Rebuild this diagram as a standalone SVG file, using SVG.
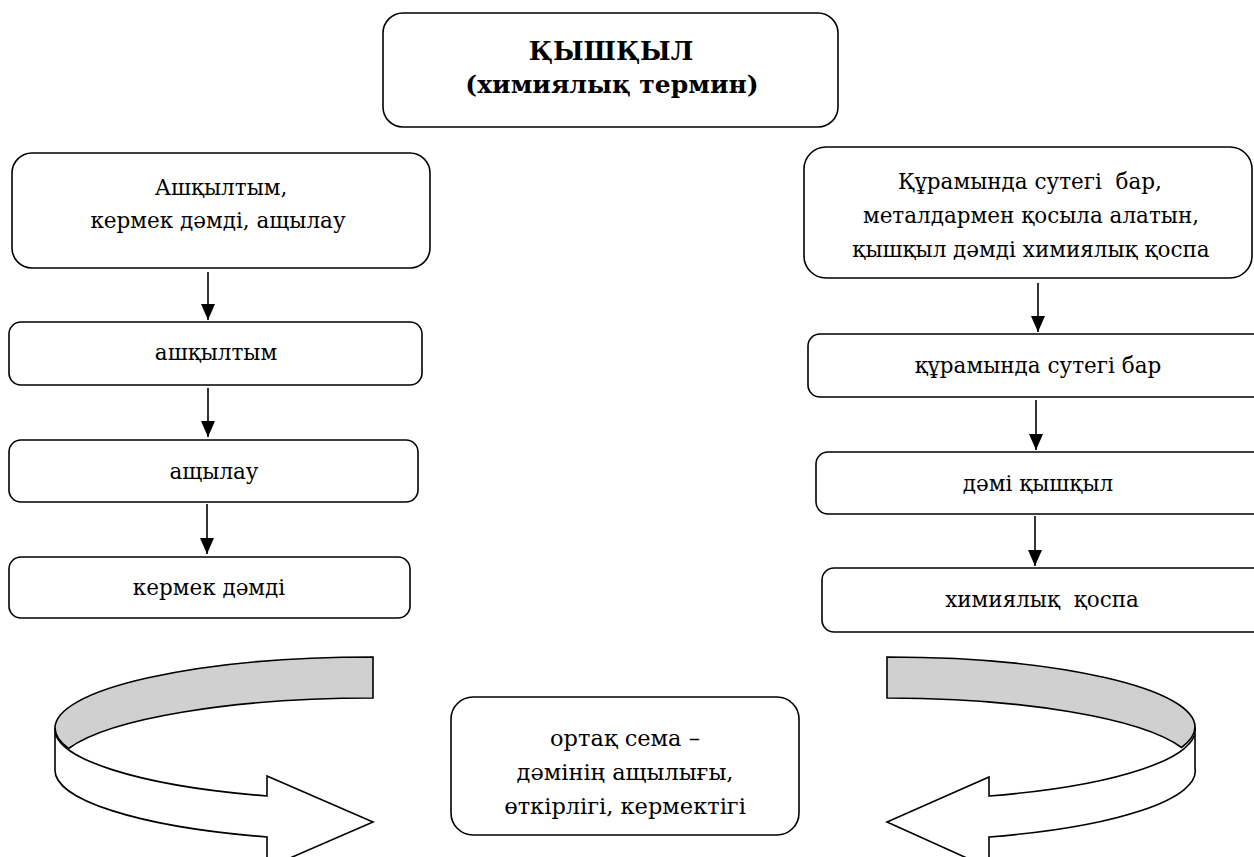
<svg xmlns="http://www.w3.org/2000/svg" width="1254" height="857" viewBox="0 0 1254 857">
<defs>
<style>
.box{fill:#fff;stroke:#000;stroke-width:1.6}
.con{stroke:#000;stroke-width:1.6;fill:none}
.rib{stroke:#000;stroke-width:1.6;stroke-linejoin:miter}
</style>
<marker id="ah" viewBox="0 0 16 14" refX="16" refY="7" markerWidth="16" markerHeight="14" markerUnits="userSpaceOnUse" orient="auto">
<path d="M0,0 L16,7 L0,14 Z" fill="#000"/>
</marker>
</defs>
<rect width="1254" height="857" fill="#fff"/>

<g font-family="DejaVu Serif, Liberation Serif, serif" font-size="21.5" fill="#000" text-anchor="middle">
<g id="title">
<rect class="box" x="383" y="13" width="455" height="114" rx="20"/>
<text x="611" y="60" font-size="25.5" font-weight="bold">ҚЫШҚЫЛ</text>
<text x="612" y="93" font-size="25" font-weight="bold">(химиялық термин)</text>
</g>

<g id="left-main">
<rect class="box" x="12" y="153" width="418" height="115" rx="20"/>
<text x="221" y="195">Ашқылтым,</text>
<text x="218" y="228">кермек дәмді, ащылау</text>
</g>
<g id="left-1">
<rect class="box" x="9" y="322" width="413" height="63" rx="12"/>
<text x="216" y="360">ашқылтым</text>
</g>
<g id="left-2">
<rect class="box" x="9" y="440" width="409" height="62" rx="12"/>
<text x="214" y="479">ащылау</text>
</g>
<g id="left-3">
<rect class="box" x="9" y="557" width="401" height="61" rx="12"/>
<text x="209" y="595">кермек дәмді</text>
</g>

<g id="right-main">
<rect class="box" x="804" y="147" width="448" height="131" rx="22"/>
<text x="1030" y="189" xml:space="preserve">Құрамында сутегі  бар,</text>
<text x="1031" y="223">металдармен қосыла алатын,</text>
<text x="1031" y="257">қышқыл дәмді химиялық қоспа</text>
</g>
<g id="right-1">
<rect class="box" x="808" y="334" width="470" height="63" rx="12"/>
<text x="1038" y="373">құрамында сутегі бар</text>
</g>
<g id="right-2">
<rect class="box" x="816" y="452" width="470" height="62" rx="12"/>
<text x="1038" y="491">дәмі қышқыл</text>
</g>
<g id="right-3">
<rect class="box" x="822" y="568" width="470" height="64" rx="12"/>
<text x="1042" y="607" xml:space="preserve">химиялық  қоспа</text>
</g>

<g id="common" font-size="22.5">
<rect class="box" x="451" y="697" width="348" height="138" rx="22"/>
<text x="625" y="746">ортақ сема –</text>
<text x="625" y="780">дәмінің ащылығы,</text>
<text x="625" y="814">өткірлігі, кермектігі</text>
</g>
</g>

<g id="connectors">
<line class="con" x1="208" y1="272" x2="208" y2="320" marker-end="url(#ah)"/>
<line class="con" x1="208" y1="388" x2="208" y2="437" marker-end="url(#ah)"/>
<line class="con" x1="207" y1="504" x2="207" y2="554" marker-end="url(#ah)"/>
<line class="con" x1="1038" y1="283" x2="1038" y2="332" marker-end="url(#ah)"/>
<line class="con" x1="1036" y1="400" x2="1036" y2="450" marker-end="url(#ah)"/>
<line class="con" x1="1035" y1="516" x2="1035" y2="566" marker-end="url(#ah)"/>
</g>

<g id="left-curved-arrow">
<path class="rib" fill="#d0d0d0" d="M55,728 A318,71 0 0 1 373,657 L373,698 A318,71 0 0 0 68.6,748.5 A318,71 0 0 1 55,728 Z"/>
<path class="rib" fill="#fff" d="M55,728 A318,71 0 0 0 267,796 L267,776 L373,822 L267,868 L267,837 A318,71 0 0 1 55,769 Z"/>
</g>
<g id="right-curved-arrow">
<path class="rib" fill="#d0d0d0" d="M887,657 A308,70 0 0 1 1195,727 A308,70 0 0 1 1181.5,747.5 A308,70 0 0 0 887,698 Z"/>
<path class="rib" fill="#fff" d="M1195,727 A308,70 0 0 1 989,796 L989,777 L887,822 L989,868 L989,837 A308,70 0 0 0 1195,768 Z"/>
</g>
</svg>
